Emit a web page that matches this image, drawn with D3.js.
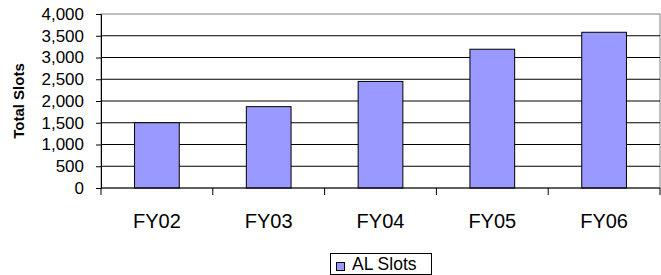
<!DOCTYPE html>
<html><head><meta charset="utf-8">
<script src="https://cdn.jsdelivr.net/npm/d3@7/dist/d3.min.js"></script>
<style>
html,body{margin:0;padding:0;background:#fff;}
svg{display:block;font-family:"Liberation Sans",Arial,sans-serif;}
</style></head>
<body>
<svg id="chart" width="661" height="275"></svg>
<script>
const categories = ["FY02","FY03","FY04","FY05","FY06"];
const alSlots = [1500, 1870, 2450, 3190, 3580];
const yTicks = [0,500,1000,1500,2000,2500,3000,3500,4000];
const seriesName = "AL Slots";
const yTitle = "Total Slots";

const svg = d3.select("#chart");
const L = 101, R = 660, T = 14, B = 188;

const x = d3.scaleBand().domain(categories).range([L, R]).paddingInner(0.6).paddingOuter(0.3);
const y = d3.scaleLinear().domain([0, 4000]).range([B, T]);

// plot border (top/right grey)
svg.append("rect").attr("x", L).attr("y", T).attr("width", R - L).attr("height", B - T)
  .attr("fill", "none").attr("stroke", "#808080").attr("stroke-width", 1);

// gridlines
svg.append("g").selectAll("line").data(yTicks.filter(d => d > 0 && d < 4000)).join("line")
  .attr("x1", L).attr("x2", R).attr("y1", d => y(d)).attr("y2", d => y(d))
  .attr("stroke", "#000").attr("stroke-width", 1);

// bars
svg.append("g").selectAll("rect").data(alSlots).join("rect")
  .attr("x", (d, i) => x(categories[i]))
  .attr("y", d => y(d))
  .attr("width", x.bandwidth())
  .attr("height", d => y(0) - y(d))
  .attr("fill", "#9999FF").attr("stroke", "#000").attr("stroke-width", 1);

// y axis
const yAxis = d3.axisLeft(y).tickValues(yTicks).tickSize(5).tickPadding(12)
  .tickFormat(d3.format(","));
const gy = svg.append("g").attr("transform", `translate(${L},0)`).call(yAxis);
gy.select(".domain").attr("stroke", "#000");
gy.selectAll(".tick line").attr("stroke", "#000");
gy.selectAll("text").attr("font-size", 17).attr("fill", "#000")
  .attr("font-family", "Liberation Sans, Arial, sans-serif");

// x axis
const xAxisLine = svg.append("g");
xAxisLine.append("line").attr("x1", L).attr("x2", R).attr("y1", B).attr("y2", B).attr("stroke", "#000");
const boundaries = categories.map(c => x(c) - x.step() * x.paddingInner() / 2).concat([R]);
boundaries[0] = L;
xAxisLine.selectAll("line.t").data(boundaries).join("line").attr("class", "t")
  .attr("x1", d => d).attr("x2", d => d).attr("y1", B).attr("y2", B + 7).attr("stroke", "#000");
xAxisLine.selectAll("text").data(categories).join("text")
  .attr("x", d => x(d) + x.bandwidth() / 2).attr("y", 228)
  .attr("text-anchor", "middle").attr("font-size", 20).attr("fill", "#000")
  .text(d => d);

// y title
svg.append("text").attr("transform", "translate(24,101) rotate(-90)")
  .attr("text-anchor", "middle").attr("font-size", 15).attr("font-weight", "bold")
  .attr("fill", "#000").text(yTitle);

// legend
const lg = svg.append("g");
lg.append("rect").attr("x", 330.5).attr("y", 253.5).attr("width", 101).attr("height", 21)
  .attr("fill", "#fff").attr("stroke", "#000");
lg.append("rect").attr("x", 336.5).attr("y", 262.5).attr("width", 8).attr("height", 8)
  .attr("fill", "#9999FF").attr("stroke", "#000");
lg.append("text").attr("x", 352).attr("y", 269.5).attr("font-size", 17.5).attr("fill", "#000")
  .text(seriesName);
</script>
</body></html>
